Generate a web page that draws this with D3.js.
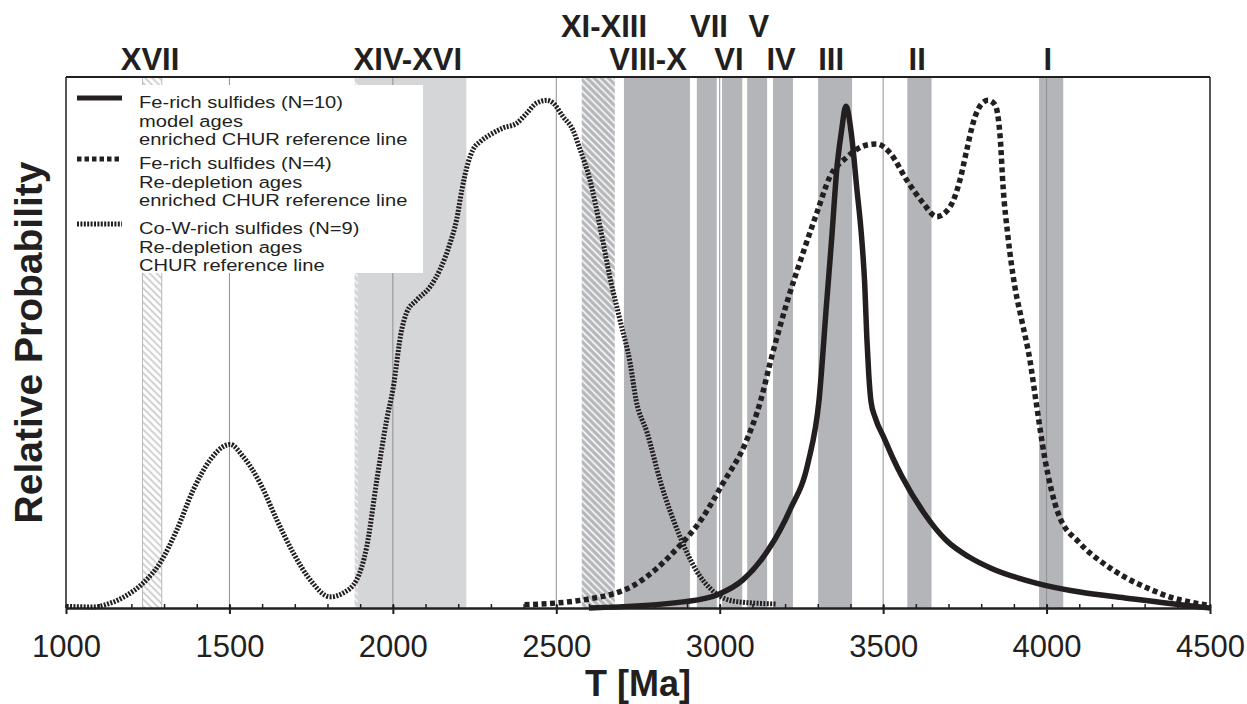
<!DOCTYPE html>
<html>
<head>
<meta charset="utf-8">
<script src="https://cdn.jsdelivr.net/npm/d3@7"></script>
<style>
  html, body { margin: 0; padding: 0; background: #fff; }
  text { font-family: "Liberation Sans", Arial, sans-serif; fill: #231f20; }
</style>
</head>
<body>
<script>
// ---------------- data ----------------
const xTicksMajor = [1000, 1500, 2000, 2500, 3000, 3500, 4000, 4500];
const gridAges = [1500, 2000, 2500, 3000, 3500, 4000];

// age bands (Ma)
const bandStart = [1234, 1883, 1893, 2578, 2707, 2930, 3007, 3084, 3163, 3301, 3574, 3977];
const bandEnd   = [1293, 1893, 2225, 2679, 2909, 2991, 3069, 3145, 3224, 3405, 3648, 4051];
const bandKind  = ["hatchLight", "hatchPale", "pale", "hatchDark", "dark", "dark", "dark", "dark", "dark", "dark", "dark", "dark"];

// band labels
const labelNames = ["XVII", "XIV-XVI", "XI-XIII", "VIII-X", "VII", "VI", "V", "IV", "III", "II", "I"];
const labelAges  = [1257, 2046, 2646, 2781, 2967, 3028, 3120, 3188, 3341, 3604, 4004];
const labelRow   = [1, 1, 0, 1, 0, 1, 0, 1, 1, 1, 1];

// Fe-rich sulfides (N=10), model ages
const feModelAge = [2600, 2894, 2997, 3071, 3148, 3215, 3270, 3304, 3327, 3343, 3358, 3373, 3386, 3404, 3419, 3434, 3444, 3450, 3456, 3463, 3476, 3503, 3530, 3558, 3625, 3692, 3763, 3830, 3968, 4102, 4240, 4469, 4500];
const feModelP   = [0, 1.2, 2.6, 5.3, 10.9, 18.5, 27.3, 39.2, 57.4, 69.9, 82.5, 90.0, 94.5, 88.7, 79.3, 69.9, 60.5, 51.0, 44.0, 38.8, 35.8, 32.0, 28.2, 24.7, 17.9, 12.8, 9.6, 7.5, 4.7, 3.0, 1.9, 0.2, 0];

// Fe-rich sulfides (N=4), Re-depletion ages
const feReAge = [2403, 2600, 2738, 2874, 2943, 3010, 3079, 3126, 3154, 3205, 3255, 3297, 3337, 3389, 3450, 3480, 3521, 3572, 3622, 3664, 3705, 3735, 3756, 3775, 3802, 3821, 3842, 3858, 3867, 3882, 3903, 3924, 3949, 3967, 3994, 4035, 4102, 4172, 4240, 4307, 4376, 4457, 4500];
const feReP   = [0.6, 1.7, 4.3, 11.5, 16.6, 23.5, 31.1, 39.2, 46.1, 57.4, 66.9, 74.4, 81.2, 84.9, 87.2, 87.4, 85.7, 80.6, 76.3, 73.7, 75.6, 80.6, 86.3, 91.3, 95.0, 95.6, 94.8, 88.7, 79.3, 69.9, 60.5, 54.2, 46.7, 39.2, 28.4, 17.9, 12.2, 8.5, 5.8, 3.8, 2.1, 0.9, 0.5];

// Co-W-rich sulfides (N=9), Re-depletion ages
const cowAge = [1002, 1083, 1135, 1186, 1236, 1288, 1339, 1389, 1441, 1492, 1502, 1542, 1594, 1645, 1695, 1747, 1808, 1847, 1889, 1920, 1951, 1981, 2000, 2027, 2042, 2073, 2114, 2144, 2175, 2195, 2211, 2230, 2245, 2267, 2297, 2337, 2379, 2410, 2440, 2471, 2490, 2521, 2551, 2573, 2603, 2634, 2664, 2695, 2726, 2744, 2778, 2820, 2874, 2927, 2983, 3052, 3175];
const cowP   = [0.3, 0.2, 0.9, 2.4, 4.7, 8.5, 14.7, 22.2, 27.9, 30.7, 30.8, 28.5, 23.5, 16.6, 10.4, 5.3, 2.1, 2.8, 5.3, 11.5, 24.1, 35.4, 41.1, 52.4, 55.6, 58.0, 60.5, 63.7, 68.7, 73.1, 78.7, 83.8, 86.3, 87.8, 89.1, 90.4, 91.3, 93.2, 95.1, 95.6, 95.1, 92.5, 90.0, 86.3, 80.6, 71.8, 62.3, 54.2, 46.1, 39.2, 33.0, 23.5, 14.1, 7.2, 3.0, 1.2, 0.75];

const legendTitles = [
  ["Fe-rich sulfides (N=10)", "model ages", "enriched CHUR reference line"],
  ["Fe-rich sulfides (N=4)", "Re-depletion ages", "enriched CHUR reference line"],
  ["Co-W-rich sulfides (N=9)", "Re-depletion ages", "CHUR reference line"]
];

// ---------------- chart ----------------
const W = 1247, H = 704;
const ink = "#231f20";
const svg = d3.select("body").append("svg").attr("width", W).attr("height", H);

const x = d3.scaleLinear().domain([1000, 4500]).range([66, 1210]);
const y = d3.scaleLinear().domain([0, 100]).range([608, 77]);

const defs = svg.append("defs");
function hatch(id, bg, fg, w) {
  const p = defs.append("pattern").attr("id", id)
    .attr("patternUnits", "userSpaceOnUse").attr("width", 5).attr("height", 5)
    .attr("patternTransform", "rotate(-45)");
  p.append("rect").attr("width", 5).attr("height", 5).attr("fill", bg);
  p.append("line").attr("x1", 2.5).attr("x2", 2.5).attr("y1", 0).attr("y2", 5)
    .attr("stroke", fg).attr("stroke-width", w);
}
hatch("hatchDark", "#b4b5b8", "#ffffff", 1.6);
hatch("hatchLight", "#ffffff", "#c4c5c7", 1.6);
hatch("hatchPale", "#d3d4d6", "#ffffff", 1.2);

const fills = {
  dark: "#b4b5b8",
  pale: "#d5d6d8",
  hatchDark: "url(#hatchDark)",
  hatchLight: "url(#hatchLight)",
  hatchPale: "url(#hatchPale)"
};

const bands = bandStart.map((s, i) => ({ s, e: bandEnd[i], k: bandKind[i] }));
svg.append("g").selectAll("rect").data(bands).join("rect")
  .attr("x", d => x(d.s)).attr("width", d => x(d.e) - x(d.s))
  .attr("y", y(100)).attr("height", y(0) - y(100))
  .attr("fill", d => fills[d.k]);
// thin border lines for the light hatched band
const lightEdges = [];
bands.filter(d => d.k === "hatchLight").forEach(d => { lightEdges.push(d.s, d.e); });
svg.append("g").selectAll("line").data(lightEdges).join("line")
  .attr("x1", d => x(d)).attr("x2", d => x(d))
  .attr("y1", y(100)).attr("y2", y(0)).attr("stroke", "#b9babc").attr("stroke-width", 1);

// grid lines
svg.append("g").selectAll("line").data(gridAges).join("line")
  .attr("x1", d => x(d)).attr("x2", d => x(d))
  .attr("y1", y(100)).attr("y2", y(0))
  .attr("stroke", "#8e8f91").attr("stroke-width", 1);

// legend box
const lg = svg.append("g");
lg.append("rect").attr("x", 66).attr("y", 85).attr("width", 357).attr("height", 188).attr("fill", "#fff");
const legendStyles = [
  { w: 5, dash: null },
  { w: 5, dash: "4.5,3" },
  { w: 5, dash: "2,1.4" }
];
const legendTop = [108, 169, 234];
legendTitles.forEach((lines, i) => {
  lg.append("line").attr("x1", 77).attr("x2", 122)
    .attr("y1", legendTop[i] - 10).attr("y2", legendTop[i] - 10)
    .attr("stroke", ink).attr("stroke-width", legendStyles[i].w)
    .attr("stroke-dasharray", legendStyles[i].dash);
  lines.forEach((s, j) => {
    lg.append("text")
      .attr("transform", `translate(139,${legendTop[i] + j * 18.5}) scale(1.22,1)`)
      .attr("font-size", 16.5).text(s);
  });
});

// curves
const line = d3.line().x(d => x(d[0])).y(d => y(d[1])).curve(d3.curveMonotoneX);
const series = [
  { age: cowAge, p: cowP, w: 5, dash: "2,1.4" },
  { age: feReAge, p: feReP, w: 5.5, dash: "5,3.5" },
  { age: feModelAge, p: feModelP, w: 5.5, dash: null }
];
svg.append("g").selectAll("path").data(series).join("path")
  .attr("d", d => line(d.age.map((a, i) => [a, d.p[i]])))
  .attr("fill", "none").attr("stroke", ink)
  .attr("stroke-width", d => d.w)
  .attr("stroke-dasharray", d => d.dash)
  .attr("stroke-linejoin", "round");

// frame
svg.append("line").attr("x1", x(1000)).attr("x2", x(4500)).attr("y1", y(100)).attr("y2", y(100))
  .attr("stroke", ink).attr("stroke-width", 2);
svg.append("line").attr("x1", x(1000)).attr("x2", x(1000)).attr("y1", y(100)).attr("y2", y(0))
  .attr("stroke", ink).attr("stroke-width", 1.5);
svg.append("line").attr("x1", x(4500)).attr("x2", x(4500)).attr("y1", y(100)).attr("y2", y(0))
  .attr("stroke", ink).attr("stroke-width", 1.5);

// minor ticks (inside)
const minorTicks = d3.range(1000, 4501, 100);
svg.append("g").attr("transform", `translate(0,${y(0)})`)
  .call(d3.axisBottom(x).tickValues(minorTicks).tickSize(-4).tickFormat(""))
  .call(g => g.select(".domain").remove())
  .call(g => g.selectAll("line").attr("stroke", ink).attr("stroke-width", 1.5));

// major axis
const ax = svg.append("g").attr("transform", `translate(0,${y(0)})`)
  .call(d3.axisBottom(x).tickValues(xTicksMajor).tickSize(6).tickSizeOuter(0).tickFormat(d3.format("d")));
ax.select(".domain").attr("stroke", ink).attr("stroke-width", 2.5);
ax.selectAll(".tick line").attr("stroke", ink).attr("stroke-width", 2).attr("y1", -3);
ax.selectAll(".tick text").attr("y", 49).attr("dy", 0)
  .attr("font-size", 31).attr("fill", ink)
  .style("font-family", '"Liberation Sans", Arial, sans-serif');

// axis titles
svg.append("text").attr("x", (x(1000) + x(4500)) / 2).attr("y", 696)
  .attr("text-anchor", "middle").attr("font-size", 36).attr("font-weight", "bold").text("T [Ma]");
svg.append("text").attr("transform", `translate(42,${(y(0) + y(100)) / 2}) rotate(-90)`)
  .attr("text-anchor", "middle").attr("font-size", 39).attr("font-weight", "bold").text("Relative Probability");

// band labels
const rowBase = [37, 70];
svg.append("g").selectAll("text").data(labelNames).join("text")
  .attr("x", (d, i) => x(labelAges[i])).attr("y", (d, i) => rowBase[labelRow[i]])
  .attr("text-anchor", "middle").attr("font-size", 31).attr("font-weight", "bold")
  .text(d => d);
</script>
</body>
</html>
